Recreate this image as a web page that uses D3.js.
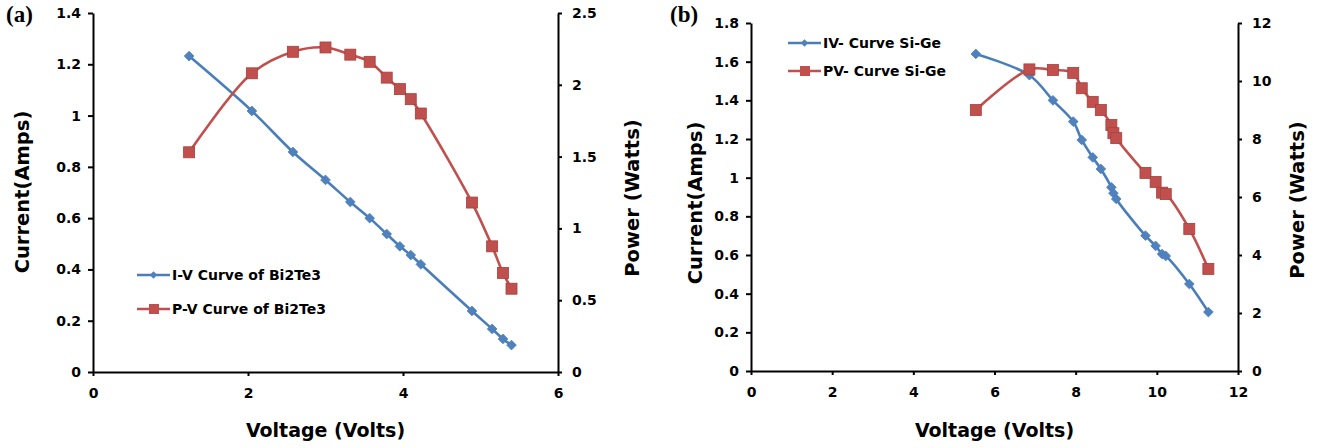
<!DOCTYPE html>
<html>
<head>
<meta charset="utf-8">
<script src="https://cdn.jsdelivr.net/npm/d3@7"></script>
<style>
  body { margin: 0; background: #fff; }
  svg text { font-family: "DejaVu Sans", sans-serif; font-weight: bold; fill: #000; }
  .axis path, .axis line { stroke: #000; stroke-width: 2; }
  .axis text { font-size: 14px; }
</style>
</head>
<body>
<svg id="chart" width="1328" height="448"></svg>
<script>
// panel (a) Bi2Te3
const voltA = [1.24, 2.05, 2.58, 3.0, 3.32, 3.57, 3.79, 3.96, 4.1, 4.23, 4.89, 5.15, 5.29, 5.4];
const currentA = [1.232, 1.018, 0.858, 0.749, 0.663, 0.60, 0.538, 0.49, 0.456, 0.42, 0.238, 0.168, 0.129, 0.105];
const powerA = [1.53, 2.08, 2.23, 2.26, 2.21, 2.16, 2.05, 1.97, 1.90, 1.80, 1.18, 0.875, 0.69, 0.58];

// panel (b) Si-Ge
const voltB = [5.54, 6.86, 7.44, 7.94, 8.15, 8.42, 8.62, 8.88, 8.93, 9.0, 9.72, 9.97, 10.13, 10.22, 10.8, 11.27];
const currentB = [1.64, 1.53, 1.40, 1.29, 1.195, 1.105, 1.045, 0.95, 0.92, 0.89, 0.70, 0.647, 0.605, 0.595, 0.45, 0.305];
const powerB = [9.0, 10.4, 10.38, 10.28, 9.75, 9.28, 9.0, 8.48, 8.2, 8.03, 6.83, 6.52, 6.15, 6.1, 4.9, 3.52];

const xTicksA = [0, 2, 4, 6];
const yTicksA = [0, 0.2, 0.4, 0.6, 0.8, 1, 1.2, 1.4];
const y2TicksA = [0, 0.5, 1, 1.5, 2, 2.5];
const xTicksB = [0, 2, 4, 6, 8, 10, 12];
const yTicksB = [0, 0.2, 0.4, 0.6, 0.8, 1, 1.2, 1.4, 1.6, 1.8];
const y2TicksB = [0, 2, 4, 6, 8, 10, 12];

const legendA = ["I-V Curve of Bi2Te3", "P-V Curve of Bi2Te3"];
const legendB = ["IV- Curve Si-Ge", "PV- Curve Si-Ge"];

const blue = "#4A7EBB", red = "#C0504D";

const svg = d3.select("#chart");

const panels = [
  { tag: "(a)", tagX: 6, volt: voltA, cur: currentA, pow: powerA,
    xTicks: xTicksA, yTicks: yTicksA, y2Ticks: y2TicksA,
    left: 93, right: 558, top: 13, bottom: 372,
    legend: legendA, legX: 137, legY: [275, 309],
    yTitleX: 29, yTitleY: 192, y2TitleX: 639, y2TitleY: 198, xTitleY: 437 },
  { tag: "(b)", tagX: 670, volt: voltB, cur: currentB, pow: powerB,
    xTicks: xTicksB, yTicks: yTicksB, y2Ticks: y2TicksB,
    left: 751, right: 1238, top: 23, bottom: 371,
    legend: legendB, legX: 788, legY: [43, 71],
    yTitleX: 702, yTitleY: 203, y2TitleX: 1304, y2TitleY: 200, xTitleY: 437 }
];

panels.forEach(function(p) {
  var x = d3.scaleLinear().domain(d3.extent(p.xTicks)).range([p.left, p.right]);
  var y = d3.scaleLinear().domain(d3.extent(p.yTicks)).range([p.bottom, p.top]);
  var y2 = d3.scaleLinear().domain(d3.extent(p.y2Ticks)).range([p.bottom, p.top]);

  var fmt = function(d) { return String(+d.toFixed(1)); };

  svg.append("g").attr("class", "axis")
    .attr("transform", "translate(0," + p.bottom + ")")
    .call(d3.axisBottom(x).tickValues(p.xTicks).tickSize(4).tickSizeOuter(0).tickPadding(12).tickFormat(fmt));

  svg.append("g").attr("class", "axis")
    .attr("transform", "translate(" + p.left + ",0)")
    .call(d3.axisLeft(y).tickValues(p.yTicks).tickSize(5).tickSizeOuter(0).tickPadding(7).tickFormat(fmt));

  svg.append("g").attr("class", "axis")
    .attr("transform", "translate(" + p.right + ",0)")
    .call(d3.axisRight(y2).tickValues(p.y2Ticks).tickSize(4).tickSizeOuter(0).tickPadding(10).tickFormat(fmt));

  var pts = p.volt.map(function(v, i) { return { v: v, c: p.cur[i], w: p.pow[i] }; });

  var curLine = d3.line().x(function(d) { return x(d.v); }).y(function(d) { return y(d.c); })
    .curve(d3.curveCatmullRom.alpha(0.5));
  var powLine = d3.line().x(function(d) { return x(d.v); }).y(function(d) { return y2(d.w); })
    .curve(d3.curveCatmullRom.alpha(0.5));

  svg.append("path").datum(pts).attr("d", curLine)
    .attr("fill", "none").attr("stroke", blue).attr("stroke-width", 2.6);
  svg.append("path").datum(pts).attr("d", powLine)
    .attr("fill", "none").attr("stroke", red).attr("stroke-width", 2.6);

  var diamond = d3.symbol().type(d3.symbolDiamond2).size(60);
  svg.append("g").selectAll("path").data(pts).enter().append("path")
    .attr("d", diamond)
    .attr("transform", function(d) { return "translate(" + x(d.v) + "," + y(d.c) + ")"; })
    .attr("fill", "#4F81BD").attr("stroke", "#4A7EBB").attr("stroke-width", 0.8);

  svg.append("g").selectAll("rect").data(pts).enter().append("rect")
    .attr("x", function(d) { return x(d.v) - 5.5; })
    .attr("y", function(d) { return y2(d.w) - 5.5; })
    .attr("width", 11).attr("height", 11)
    .attr("fill", red).attr("stroke", "#A7403D").attr("stroke-width", 0.8);

  // legend
  var colors = [blue, red];
  p.legend.forEach(function(label, i) {
    var ly = p.legY[i];
    var g = svg.append("g");
    g.append("line").attr("x1", p.legX).attr("x2", p.legX + 33).attr("y1", ly).attr("y2", ly)
      .attr("stroke", colors[i]).attr("stroke-width", 2.5);
    if (i === 0) {
      g.append("path").attr("d", d3.symbol().type(d3.symbolDiamond2).size(34))
        .attr("transform", "translate(" + (p.legX + 16.5) + "," + ly + ")").attr("fill", "#4F81BD");
    } else {
      g.append("rect").attr("x", p.legX + 12).attr("y", ly - 5).attr("width", 10).attr("height", 10)
        .attr("fill", red);
    }
    g.append("text").attr("x", p.legX + 35).attr("y", ly).attr("dy", "0.35em")
      .style("font-size", "14px").text(label);
  });

  // titles
  svg.append("text").attr("x", (p.left + p.right) / 2).attr("y", p.xTitleY)
    .attr("text-anchor", "middle").style("font-size", "19px").text("Voltage (Volts)");
  svg.append("text").attr("transform", "translate(" + p.yTitleX + "," + p.yTitleY + ") rotate(-90)")
    .attr("text-anchor", "middle").style("font-size", "19.5px").text("Current(Amps)");
  svg.append("text").attr("transform", "translate(" + p.y2TitleX + "," + p.y2TitleY + ") rotate(-90)")
    .attr("text-anchor", "middle").style("font-size", "19.5px").text("Power (Watts)");

  svg.append("text").attr("x", p.tagX).attr("y", 22)
    .style("font-family", "'Liberation Serif', serif").style("font-size", "23px").text(p.tag);
});
</script>
</body>
</html>
